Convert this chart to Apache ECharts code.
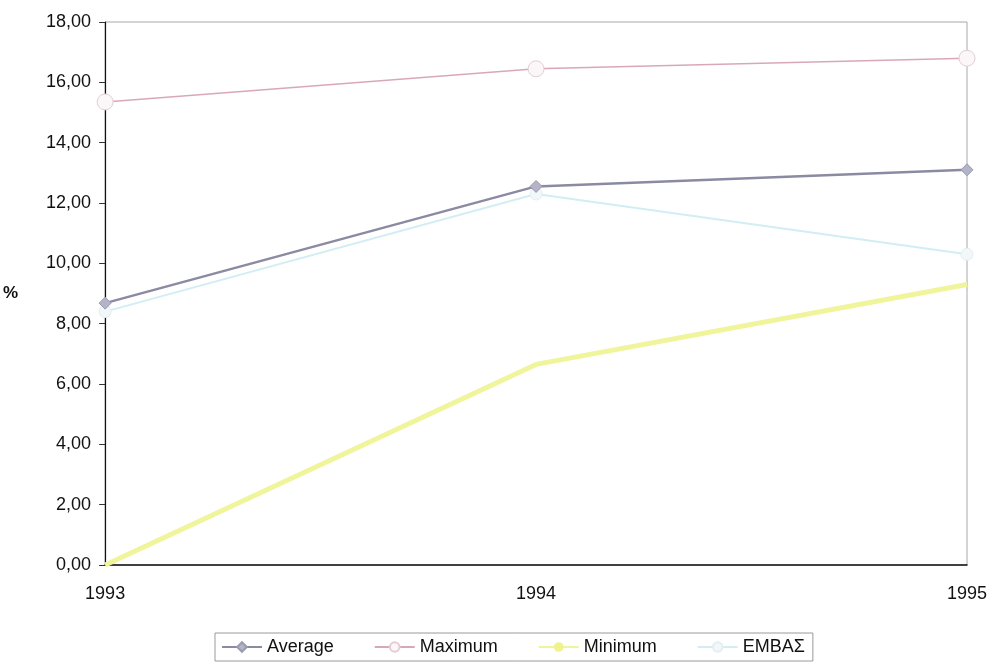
<!DOCTYPE html>
<html>
<head>
<meta charset="utf-8">
<script src="https://cdn.jsdelivr.net/npm/echarts@6/dist/echarts.min.js"></script>
<style>html,body{margin:0;padding:0;background:#fff}#c{width:992px;height:667px}</style>
</head>
<body>
<div id="c"></div>
<script>
const years = ['1993', '1994', '1995'];
const average = [8.68, 12.55, 13.1];
const maximum = [15.35, 16.45, 16.8];
const minimum = [0.0, 6.65, 9.3];
const embas = [8.4, 12.3, 10.3];
const seriesNames = ['Average', 'Maximum', 'Minimum', 'ΕΜΒΑΣ'];

const chart = echarts.init(document.getElementById('c'));
const font = '"Liberation Sans", Arial, sans-serif';
chart.setOption({
  animation: false,
  backgroundColor: '#fff',
  grid: { left: 105, right: 25, top: 22, bottom: 102, show: true, borderColor: '#a8a8a8', borderWidth: 1 },
  legend: {
    top: 633, left: 215,
    data: seriesNames,
    itemWidth: 40, itemHeight: 12, itemGap: 40,
    borderColor: '#9a9a9a', borderWidth: 1, padding: [5, 8, 5, 6],
    textStyle: { fontFamily: font, fontSize: 18, color: '#111' }
  },
  xAxis: {
    type: 'category', data: years, boundaryGap: false,
    axisLine: { lineStyle: { color: '#111', width: 1.5 } },
    axisTick: { show: false },
    axisLabel: { fontFamily: font, fontSize: 18, color: '#111', margin: 20 },
    splitLine: { show: false }
  },
  yAxis: {
    type: 'value', min: 0, max: 18, interval: 2,
    name: '%', nameLocation: 'middle', nameGap: 87, nameRotate: 0,
    nameTextStyle: { fontFamily: font, fontSize: 17, fontWeight: 'bold', color: '#111', padding: [0, 0, 24, 0] },
    axisLine: { show: true, lineStyle: { color: '#111', width: 1.2 } },
    axisTick: { show: true, length: 6, lineStyle: { color: '#333' } },
    axisLabel: { fontFamily: font, fontSize: 18, color: '#111', margin: 14,
      formatter: v => v.toFixed(2).replace('.', ',') },
    splitLine: { show: false }
  },
  series: [
    { name: 'Average', type: 'line', data: average, color: '#8c8ca4',
      lineStyle: { color: '#8a8aa2', width: 2.5 },
      symbol: 'diamond', symbolSize: 12, itemStyle: { color: '#b4b4c8', borderColor: '#9a9ab0', borderWidth: 1 }, z: 4 },
    { name: 'Maximum', type: 'line', data: maximum, color: '#dcb0c0',
      lineStyle: { color: '#d8a8b8', width: 1.5 },
      symbol: 'circle', symbolSize: 16, itemStyle: { color: '#fbf6f8', borderColor: '#e4ccd6', borderWidth: 1 }, z: 3 },
    { name: 'Minimum', type: 'line', data: minimum, color: '#eef38c',
      lineStyle: { color: '#f0f59c', width: 5 },
      symbol: 'circle', symbolSize: 6, showSymbol: false, itemStyle: { color: '#eef38c' }, z: 2 },
    { name: 'ΕΜΒΑΣ', type: 'line', data: embas, color: '#cfeef4',
      lineStyle: { color: '#d2eef4', width: 2 },
      symbol: 'circle', symbolSize: 12, itemStyle: { color: '#f2f8fa', borderColor: '#e2eef2', borderWidth: 1 }, z: 1 }
  ]
});
</script>
</body>
</html>
